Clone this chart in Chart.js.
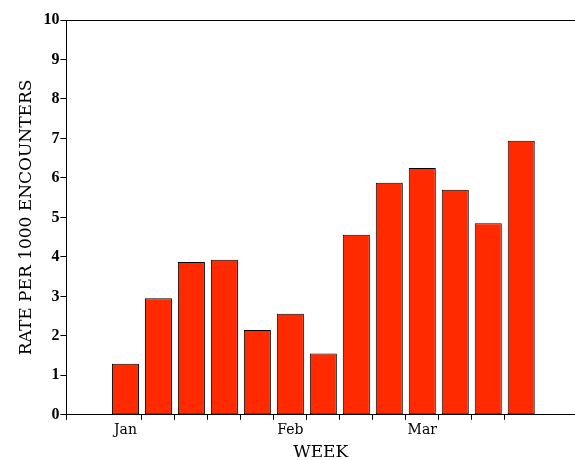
<!DOCTYPE html>
<html>
<head>
<meta charset="utf-8">
<script src="https://cdn.jsdelivr.net/npm/chart.js@4.4.1/dist/chart.umd.min.js"></script>
<style>
    html, body { margin: 0; padding: 0; background: #fff; }
    canvas { display: block; }
</style>
</head>
<body>
<canvas id="chart" width="575" height="460"></canvas>
<script>
'use strict';

// weekly rates
var weeks = [1, 2, 3, 4, 5, 6, 7, 8, 9, 10, 11, 12, 13];
var rates = [1.29, 2.95, 3.87, 3.93, 2.15, 2.56, 1.55, 4.56, 5.88, 6.25, 5.70, 4.85, 6.94];

// month labels and the week they sit under
var monthLabels = ['Jan', 'Feb', 'Mar'];
var monthWeeks = [1, 6, 10];

var yTicks = [0, 1, 2, 3, 4, 5, 6, 7, 8, 9, 10];

var xMin = -0.79;
var xMax = 14.63;
var barColor = '#ff2a00';
var serif = "'DejaVu Serif', serif";

var chartData = {
    datasets: [
        {
            label: 'Rate',
            data: weeks.map(function (w, i) { return { x: w, y: rates[i] }; }),
            backgroundColor: barColor,
            borderColor: '#000',
            borderWidth: 1,
            borderSkipped: false,
            categoryPercentage: 0.82,
            barPercentage: 1,
            xAxisID: 'x',
            yAxisID: 'y'
        }
    ]
};

var options = {
    responsive: false,
    animation: false,
    layout: { padding: { top: 20, right: 0, bottom: -3, left: 16 } },
    plugins: {
        legend: { display: false },
        tooltip: { enabled: false }
    },
    scales: {
        x: {
            type: 'linear',
            min: xMin,
            max: xMax,
            offset: false,
            weight: 0,
            border: { display: true, color: '#000', width: 1 },
            grid: { display: true, offset: false, drawOnChartArea: false, tickLength: 5, tickColor: '#000', color: '#000' },
            ticks: { display: false },
            afterBuildTicks: function (scale) {
                // tick marks between the weeks, plus one at the origin
                var marks = [xMin].concat(weeks.slice(1).map(function (w) { return w - 0.5; }));
                scale.ticks = marks.map(function (v) { return { value: v }; });
            }
        },
        x2: {
            type: 'linear',
            position: 'bottom',
            min: xMin,
            max: xMax,
            offset: false,
            weight: 1,
            border: { display: false },
            grid: { display: false, drawTicks: false },
            ticks: {
                color: '#000',
                padding: 2,
                maxRotation: 0,
                autoSkip: false,
                font: { family: serif, size: 14 },
                callback: function (value) {
                    var i = monthWeeks.indexOf(value);
                    return i >= 0 ? monthLabels[i] : '';
                }
            },
            afterBuildTicks: function (scale) {
                scale.ticks = monthWeeks.map(function (v) { return { value: v }; });
            },
            title: {
                display: true,
                text: 'WEEK',
                color: '#000',
                font: { family: serif, size: 17 },
                padding: { top: 2, bottom: 0 }
            }
        },
        y: {
            type: 'linear',
            min: 0,
            max: 10,
            border: { display: true, color: '#000', width: 1 },
            grid: {
                drawOnChartArea: true,
                tickLength: 6,
                tickColor: '#000',
                color: function (ctx) {
                    // only the top frame line at 10
                    return ctx.tick && ctx.tick.value === 10 ? '#000' : 'rgba(0,0,0,0)';
                }
            },
            afterBuildTicks: function (scale) {
                scale.ticks = yTicks.map(function (v) { return { value: v }; });
            },
            ticks: {
                color: '#000',
                padding: 1,
                font: { family: "'Liberation Serif', serif", size: 16, weight: 'bold' }
            },
            title: {
                display: true,
                text: 'RATE PER 1000 ENCOUNTERS',
                color: '#000',
                font: { family: serif, size: 17 },
                padding: { top: 0, bottom: 6 }
            }
        }
    }
};

var ctx = document.getElementById('chart').getContext('2d');
var chart = new Chart(ctx, { type: 'bar', data: chartData, options: options });
</script>
</body>
</html>
